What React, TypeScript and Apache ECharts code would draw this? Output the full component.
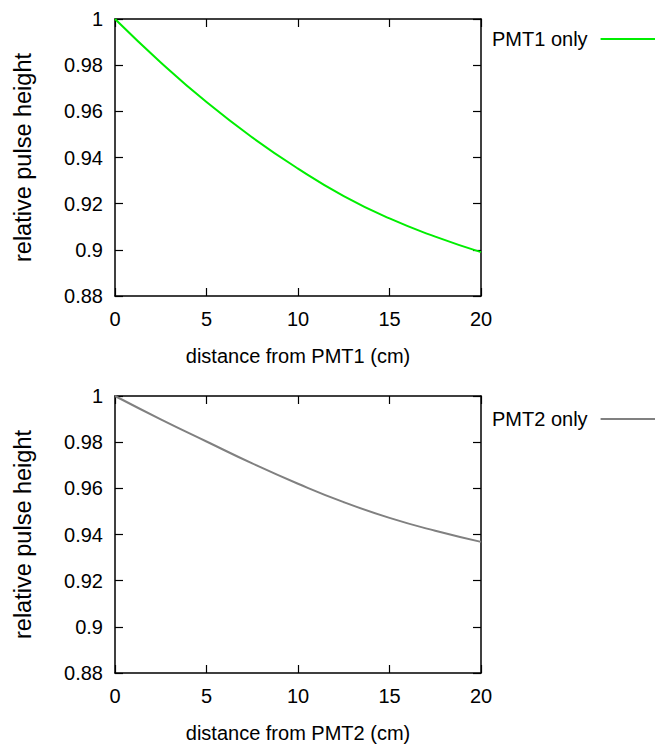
import React, { useEffect, useRef } from "react";
import * as echarts from "echarts";

const distance = [0, 2.5, 5, 7.5, 10, 12.5, 15, 17.5, 20];
const pmt1Only = [1.0, 0.9812, 0.964, 0.9487, 0.9352, 0.9233, 0.9136, 0.9057, 0.899];
const pmt2Only = [1.0, 0.9899, 0.9803, 0.9708, 0.962, 0.954, 0.9472, 0.9416, 0.9368];
const seriesNames = ["PMT1 only", "PMT2 only"];
const xNames = ["distance from PMT1 (cm)", "distance from PMT2 (cm)"];
const yName = "relative pulse height";
const xRange = [0, 20, 5];
const yRange = [0.88, 1, 0.02];

const FONT = "'Liberation Sans', Arial, Helvetica, sans-serif";

export default function App() {
  const ref = useRef<HTMLDivElement>(null);
  useEffect(() => {
    if (!ref.current) return;
    const chart = echarts.init(ref.current, null, { renderer: "svg" });
    const grids = [
      { left: 115, top: 19, width: 366, height: 277 },
      { left: 115, top: 396, width: 366, height: 277 },
    ];
    const axisLine = { show: true, onZero: false, lineStyle: { color: "#000", width: 1.5 } };
    const axisTick = { show: true, inside: true, length: 8, lineStyle: { color: "#000", width: 1.2 } };
    const xAxis: any[] = [];
    const yAxis: any[] = [];
    grids.forEach((_, i) => {
      xAxis.push({
        type: "value", gridIndex: i, position: "bottom",
        min: xRange[0], max: xRange[1], interval: xRange[2],
        axisLine, axisTick, splitLine: { show: false },
        axisLabel: { margin: 13, fontFamily: FONT, fontSize: 20, color: "#000" },
        name: xNames[i], nameLocation: "middle", nameGap: 50,
        nameTextStyle: { fontFamily: FONT, fontSize: 20, color: "#000" },
      });
      xAxis.push({
        type: "value", gridIndex: i, position: "top",
        min: xRange[0], max: xRange[1], interval: xRange[2],
        axisLine, axisTick, splitLine: { show: false }, axisLabel: { show: false },
      });
      yAxis.push({
        type: "value", gridIndex: i, position: "left",
        min: yRange[0], max: yRange[1], interval: yRange[2],
        axisLine, axisTick, splitLine: { show: false },
        axisLabel: { margin: 12, fontFamily: FONT, fontSize: 20, color: "#000" },
        name: yName, nameLocation: "middle", nameGap: 80,
        nameTextStyle: { fontFamily: FONT, fontSize: 23.5, color: "#000" },
      });
      yAxis.push({
        type: "value", gridIndex: i, position: "right",
        min: yRange[0], max: yRange[1], interval: yRange[2],
        axisLine, axisTick, splitLine: { show: false }, axisLabel: { show: false },
      });
    });
    const colors = ["#00ee00", "#808080"];
    const datasets = [pmt1Only, pmt2Only];
    const series = datasets.map((vals, i) => ({
      type: "line",
      name: seriesNames[i],
      xAxisIndex: i * 2,
      yAxisIndex: i * 2,
      data: distance.map((d, k) => [d, vals[k]]),
      smooth: 0.5,
      symbol: "none",
      showSymbol: false,
      lineStyle: { color: colors[i], width: 2 },
      itemStyle: { color: colors[i] },
      clip: false,
    }));
    const legendTops = [29, 409];
    const legend = seriesNames.map((n, i) => ({
      data: [n],
      left: 492,
      top: legendTops[i],
      align: "right",
      icon: "rect",
      itemWidth: 55,
      itemHeight: 2,
      padding: 0,
      textStyle: { fontFamily: FONT, fontSize: 20, color: "#000", padding: [0, 8, 0, 0] },
      selectedMode: false,
    }));
    chart.setOption({
      animation: false,
      backgroundColor: "#fff",
      grid: grids,
      xAxis,
      yAxis,
      legend,
      series,
    });
    return () => chart.dispose();
  }, []);
  return (
    <div
      ref={ref}
      style={{ position: "absolute", left: 0, top: 0, width: 655, height: 746 }}
    />
  );
}
